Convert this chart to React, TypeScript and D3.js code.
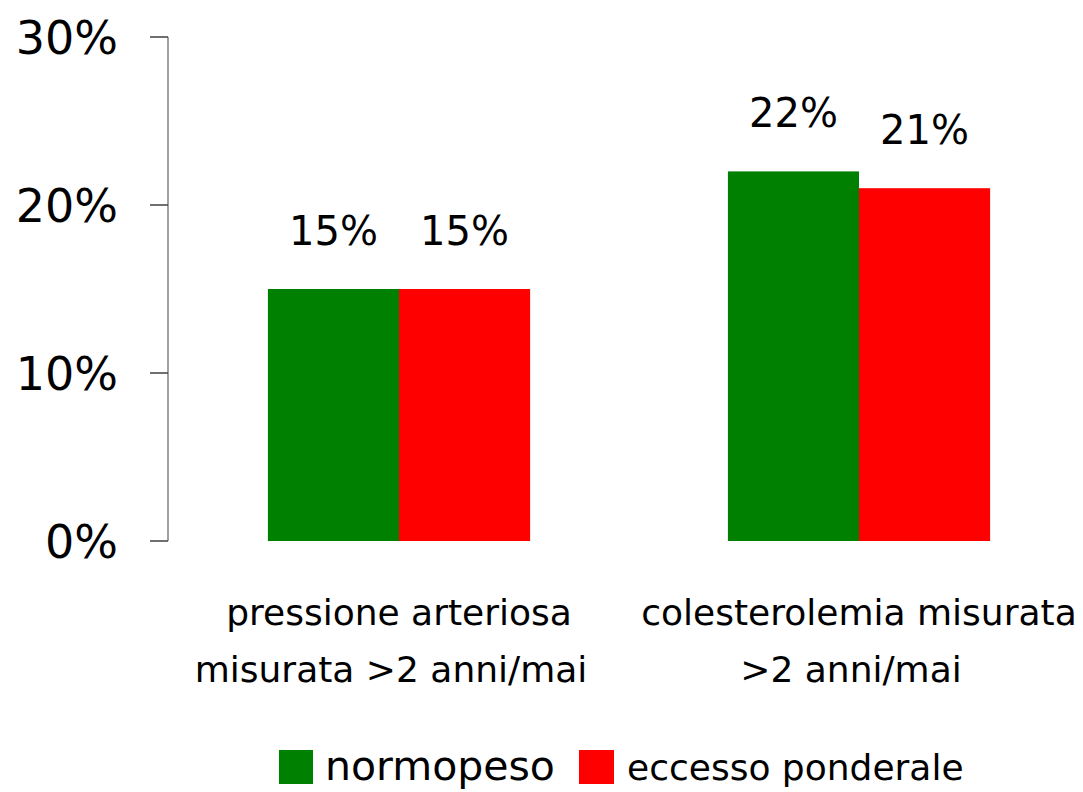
import React from "react";
import * as d3 from "d3";

const categories = [
  ["pressione arteriosa", "misurata >2 anni/mai"],
  ["colesterolemia misurata", ">2 anni/mai"],
];
const seriesNames = ["normopeso", "eccesso ponderale"];
const seriesColors = ["#008000", "#FF0000"];
const normopeso = [15, 22];
const eccessoPonderale = [15, 21];
const yTicks = [0, 10, 20, 30];

const W = 1083;
const H = 792;
const FONT = "'Comic Sans MS', 'DejaVu Sans', sans-serif";

export default function App() {
  const x = d3
    .scaleBand<number>()
    .domain(categories.map((_, i) => i))
    .range([169, 1089])
    .paddingInner(0.43)
    .paddingOuter(0.215);
  const y = d3.scaleLinear().domain([0, 30]).range([541, 37]);
  const xs = d3
    .scaleBand<number>()
    .domain([0, 1])
    .range([0, x.bandwidth()])
    .padding(0);
  const series = [normopeso, eccessoPonderale];

  return (
    <svg
      width={W}
      height={H}
      style={{ position: "absolute", left: 0, top: 0, background: "#fff" }}
      fontFamily={FONT}
    >
      {/* axis */}
      <line x1={168} x2={168} y1={y(30)} y2={y(0)} stroke="#808080" strokeWidth={1.5} />
      {yTicks.map((t) => (
        <g key={t}>
          <line x1={150} x2={168} y1={y(t)} y2={y(t)} stroke="#404040" strokeWidth={1.5} />
          <text x={118} y={y(t) + 17} textAnchor="end" fontSize={46} fill="#000">
            {t}%
          </text>
        </g>
      ))}
      {/* bars */}
      {series.map((vals, si) =>
        vals.map((v, ci) => {
          const bx = (x(ci) as number) + (xs(si) as number);
          return (
            <g key={`${si}-${ci}`}>
              <rect
                x={bx}
                y={y(v)}
                width={xs.bandwidth()}
                height={y(0) - y(v)}
                fill={seriesColors[si]}
              />
              <text
                x={bx + xs.bandwidth() / 2}
                y={y(v) - 44}
                textAnchor="middle"
                fontSize={40}
                fill="#000"
              >
                {v}%
              </text>
            </g>
          );
        })
      )}
      {/* category labels */}
      {categories.map((lines, ci) => (
        <text
          key={ci}
          x={(x(ci) as number) + x.bandwidth() / 2}
          textAnchor="middle"
          fontSize={36}
          fill="#000"
        >
          {lines.map((l, li) => (
            <tspan key={li} x={(x(ci) as number) + x.bandwidth() / 2 - (li === 1 ? 8 : 0)} y={625 + li * 57}>
              {l}
            </tspan>
          ))}
        </text>
      ))}
      {/* legend */}
      <rect x={279} y={750} width={34} height={34} fill={seriesColors[0]} />
      <text x={325} y={780} fontSize={41} fill="#000">
        {seriesNames[0]}
      </text>
      <rect x={579} y={750} width={35} height={34} fill={seriesColors[1]} />
      <text x={627} y={780} fontSize={36} fill="#000">
        {seriesNames[1]}
      </text>
    </svg>
  );
}
